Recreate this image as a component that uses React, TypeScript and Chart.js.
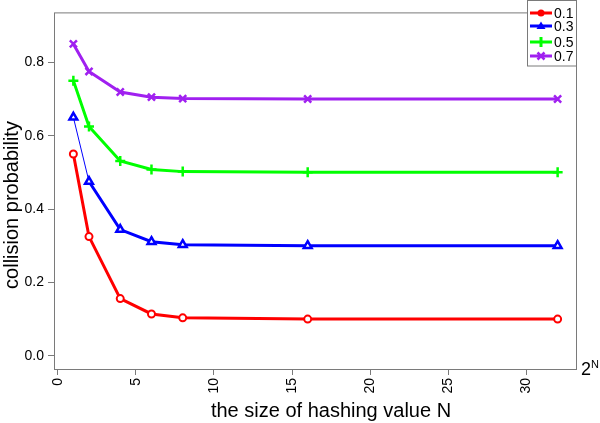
import React, { useEffect, useRef } from "react";
import { Chart, registerables } from "chart.js";

Chart.register(...registerables);

const hashSizes = [1, 2, 4, 6, 8, 16, 32];
const series01 = [0.55, 0.325, 0.156, 0.114, 0.1035, 0.1, 0.1];
const series03 = [0.65, 0.475, 0.344, 0.311, 0.303, 0.3, 0.3];
const series05 = [0.75, 0.625, 0.531, 0.508, 0.502, 0.5, 0.5];
const series07 = [0.85, 0.775, 0.719, 0.705, 0.701, 0.7, 0.7];
const seriesLabels = ["0.1", "0.3", "0.5", "0.7"];
const seriesColors = ["#ff0000", "#0000ff", "#00ff00", "#a020f0"];
const xTickValues = [0, 5, 10, 15, 20, 25, 30];
const yTickValues = [0, 0.2, 0.4, 0.6, 0.8];
const xTitle = "the size of hashing value N";
const yTitle = "collision probability";

const FONT = "'Liberation Sans', Arial, Helvetica, sans-serif";
const AXIS_GRAY = "#7a7a7a";

const overlayPlugin = {
  id: "overlay",
  afterDraw(chart: any) {
    const { ctx, chartArea } = chart;
    const { left, right, top, bottom } = chartArea;
    ctx.save();
    // frame box
    ctx.strokeStyle = AXIS_GRAY;
    ctx.lineWidth = 1;
    ctx.strokeRect(left + 0.5, top + 0.5, right - left - 1, bottom - top);

    // axis titles
    ctx.fillStyle = "#000";
    ctx.font = `20px ${FONT}`;
    ctx.textAlign = "center";
    ctx.textBaseline = "middle";
    ctx.fillText(xTitle, 331, 411);
    ctx.save();
    ctx.translate(12, 205);
    ctx.rotate(-Math.PI / 2);
    ctx.fillText(yTitle, 0, 0);
    ctx.restore();

    // 2^N
    ctx.textAlign = "left";
    ctx.textBaseline = "alphabetic";
    ctx.font = `18px ${FONT}`;
    ctx.fillText("2", 581, 375);
    ctx.font = `11px ${FONT}`;
    ctx.fillText("N", 591, 368);

    // legend
    const lx0 = 527.5;
    const lx1 = 577;
    ctx.fillStyle = "#fff";
    ctx.fillRect(lx0, 0, lx1 - lx0, 66);
    ctx.strokeStyle = AXIS_GRAY;
    ctx.lineWidth = 1;
    ctx.strokeRect(lx0, 0.5, lx1 - lx0 - 0.5, 65.5);
    const ys = [13, 26, 42, 56];
    const styles = ["circle", "triangle", "cross", "crossRot"];
    seriesLabels.forEach((lab, i) => {
      const y = ys[i];
      const c = seriesColors[i];
      ctx.strokeStyle = c;
      ctx.fillStyle = c;
      ctx.lineWidth = 3;
      ctx.beginPath();
      ctx.moveTo(530, y);
      ctx.lineTo(552, y);
      ctx.stroke();
      const mx = 541;
      ctx.lineWidth = 2;
      if (styles[i] === "circle") {
        ctx.beginPath();
        ctx.arc(mx, y, 3.5, 0, Math.PI * 2);
        ctx.fill();
      } else if (styles[i] === "triangle") {
        ctx.beginPath();
        ctx.moveTo(mx, y - 4.5);
        ctx.lineTo(mx + 4.5, y + 3);
        ctx.lineTo(mx - 4.5, y + 3);
        ctx.closePath();
        ctx.fill();
      } else if (styles[i] === "cross") {
        ctx.lineWidth = 3;
        ctx.beginPath();
        ctx.moveTo(mx, y - 5);
        ctx.lineTo(mx, y + 5);
        ctx.stroke();
      } else {
        ctx.lineWidth = 2.5;
        ctx.beginPath();
        ctx.moveTo(mx - 3.5, y - 3.5);
        ctx.lineTo(mx + 3.5, y + 3.5);
        ctx.moveTo(mx + 3.5, y - 3.5);
        ctx.lineTo(mx - 3.5, y + 3.5);
        ctx.stroke();
      }
      ctx.fillStyle = "#000";
      ctx.font = `14px ${FONT}`;
      ctx.textAlign = "left";
      ctx.textBaseline = "middle";
      ctx.fillText(lab, 554, y + 1);
    });
    ctx.restore();
  },
};

export default function App() {
  const canvasRef = useRef<HTMLCanvasElement | null>(null);

  useEffect(() => {
    if (!canvasRef.current) return;
    const mk = (vals: number[]) => hashSizes.map((x, i) => ({ x, y: vals[i] }));
    const chart = new Chart(canvasRef.current, {
      type: "line",
      data: {
        datasets: [
          {
            label: seriesLabels[0],
            data: mk(series01),
            borderColor: seriesColors[0],
            backgroundColor: "#ffffff",
            borderWidth: 3,
            pointStyle: "circle",
            pointRadius: 3.5,
            pointBorderWidth: 2,
          },
          {
            label: seriesLabels[1],
            data: mk(series03),
            borderColor: seriesColors[1],
            backgroundColor: "#ffffff",
            borderWidth: 3,
            pointStyle: "triangle",
            pointRadius: 4.5,
            pointBorderWidth: 2.5,
            segment: {
              borderWidth: (c: any) => (c.p0DataIndex === 0 ? 1 : 3),
            },
          },
          {
            label: seriesLabels[2],
            data: mk(series05),
            borderColor: seriesColors[2],
            backgroundColor: seriesColors[2],
            borderWidth: 3,
            pointStyle: "cross",
            pointRadius: 5,
            pointBorderWidth: 2.5,
          },
          {
            label: seriesLabels[3],
            data: mk(series07),
            borderColor: seriesColors[3],
            backgroundColor: seriesColors[3],
            borderWidth: 3,
            pointStyle: "crossRot",
            pointRadius: 5,
            pointBorderWidth: 2.5,
          },
        ] as any,
      },
      options: {
        animation: false,
        responsive: false,
        maintainAspectRatio: false,
        layout: { padding: { top: 0, right: 23, left: 0, bottom: 0 } },
        plugins: { legend: { display: false }, tooltip: { enabled: false } },
        elements: { line: { tension: 0 } },
        scales: {
          x: {
            type: "linear",
            min: -0.24,
            max: 33.24,
            afterBuildTicks: (axis: any) => {
              axis.ticks = xTickValues.map((v) => ({ value: v }));
            },
            afterFit: (axis: any) => {
              axis.height = 54;
            },
            grid: {
              display: true,
              drawOnChartArea: false,
              drawTicks: true,
              tickLength: 6,
              color: AXIS_GRAY,
            },
            border: { display: false },
            ticks: {
              minRotation: 90,
              maxRotation: 90,
              padding: 3,
              color: "#000",
              font: { family: FONT, size: 14 },
              callback: (v: any) => String(v),
            },
          },
          y: {
            type: "linear",
            min: -0.036,
            max: 0.936,
            afterBuildTicks: (axis: any) => {
              axis.ticks = yTickValues.map((v) => ({ value: v }));
            },
            afterFit: (axis: any) => {
              axis.width = 54;
            },
            grid: {
              display: true,
              drawOnChartArea: false,
              drawTicks: true,
              tickLength: 6,
              color: AXIS_GRAY,
            },
            border: { display: false },
            ticks: {
              padding: 4,
              color: "#000",
              font: { family: FONT, size: 14 },
              callback: (v: any) => Number(v).toFixed(1),
            },
          },
        },
      } as any,
      plugins: [overlayPlugin],
    });
    return () => chart.destroy();
  }, []);

  return (
    <div style={{ position: "absolute", left: 0, top: 0, width: 600, height: 423, background: "#fff" }}>
      <canvas ref={canvasRef} width={600} height={423} style={{ width: 600, height: 423 }} />
    </div>
  );
}
